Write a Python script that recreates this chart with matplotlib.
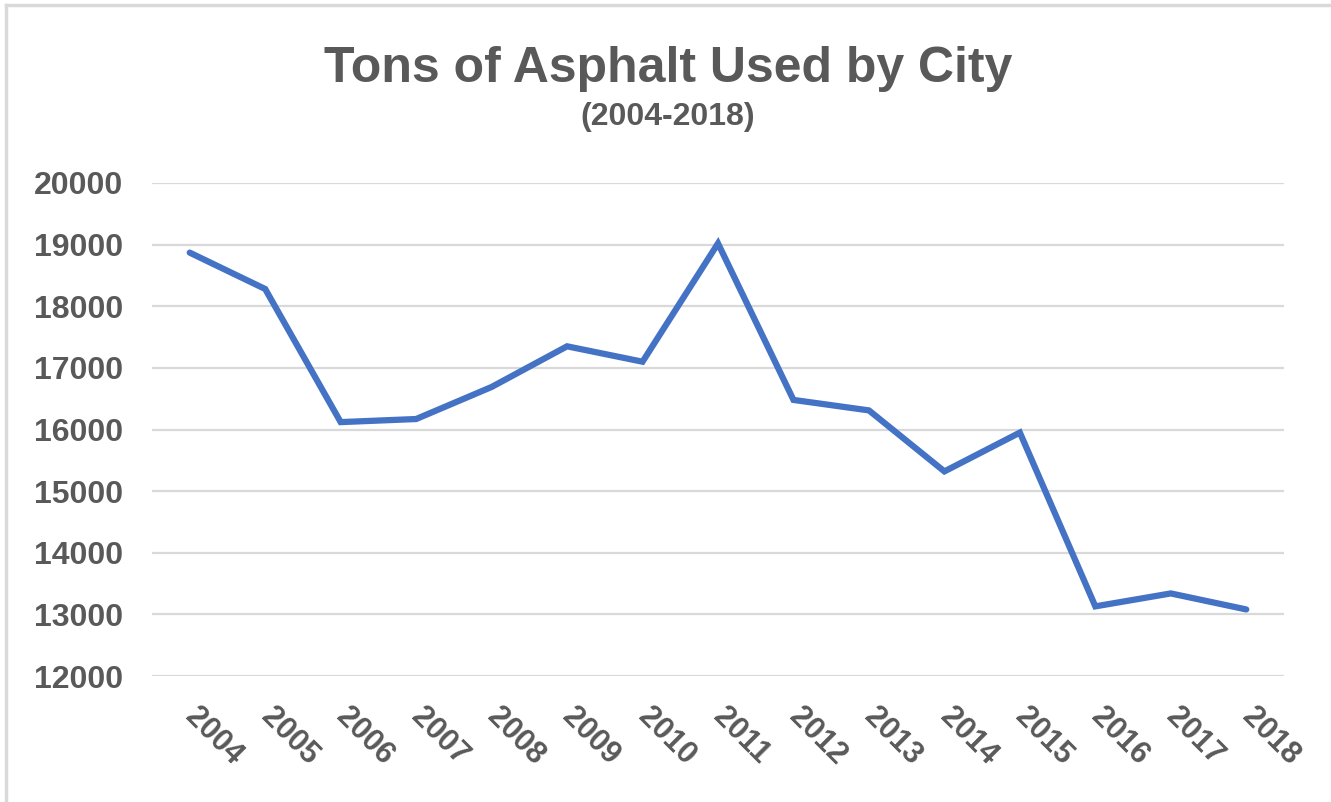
import matplotlib
matplotlib.use('Agg')
import matplotlib.pyplot as plt
from matplotlib.lines import Line2D

# Values
years = ['2004', '2005', '2006', '2007', '2008', '2009', '2010', '2011',
         '2012', '2013', '2014', '2015', '2016', '2017', '2018']
tons = [18870, 18280, 16120, 16170, 16690, 17350, 17100, 19020,
        16480, 16310, 15320, 15950, 13130, 13340, 13080]
y_ticks = [12000, 13000, 14000, 15000, 16000, 17000, 18000, 19000, 20000]

TEXT_COLOR = '#595959'
GRID_COLOR = '#d9d9d9'
LINE_COLOR = '#4472c4'

plt.rcParams['font.family'] = ['Liberation Sans', 'DejaVu Sans']

W, H = 1331, 802
fig = plt.figure(figsize=(W / 100, H / 100), dpi=100)
fig.patch.set_facecolor('white')

# plot area in pixel terms
left, right, top, bottom = 152, 1284, 183, 676
ax = fig.add_axes([left / W, 1 - bottom / H, (right - left) / W, (bottom - top) / H])

ax.plot(range(len(years)), tons, color=LINE_COLOR, linewidth=4.5,
        solid_joinstyle='miter', solid_capstyle='round', zorder=3)

ax.set_xlim(-0.5, len(years) - 0.5)
ax.set_ylim(12000, 20000)
ax.set_yticks(y_ticks)
ax.set_yticklabels([str(v) for v in y_ticks], fontsize=23, fontweight='bold', color=TEXT_COLOR)
ax.set_xticks(range(len(years)))
ax.set_xticklabels(years, fontsize=22, fontweight='bold', color=TEXT_COLOR, rotation=-45,
                   ha='left', va='center', rotation_mode='anchor')
ax.tick_params(axis='y', length=0, pad=21)
ax.tick_params(axis='x', length=0, pad=26)

ax.grid(axis='y', color=GRID_COLOR, linewidth=1.6)
ax.set_axisbelow(True)
for s in ax.spines.values():
    s.set_visible(False)

fig.text(0.502, 1 - 82 / H, 'Tons of Asphalt Used by City', ha='center', va='baseline',
         fontsize=36, fontweight='bold', color=TEXT_COLOR)
fig.text(0.502, 1 - 125 / H, '(2004-2018)', ha='center', va='baseline',
         fontsize=23, fontweight='bold', color=TEXT_COLOR)

# partial chart frame (top and left edges visible in the reference)
fig.add_artist(Line2D([6 / W, 6 / W], [0, 1 - 5 / H], color=GRID_COLOR, linewidth=2.5))
fig.add_artist(Line2D([6 / W, 1], [1 - 5 / H, 1 - 5 / H], color=GRID_COLOR, linewidth=2.5))

fig.savefig('out.png', dpi=100)
